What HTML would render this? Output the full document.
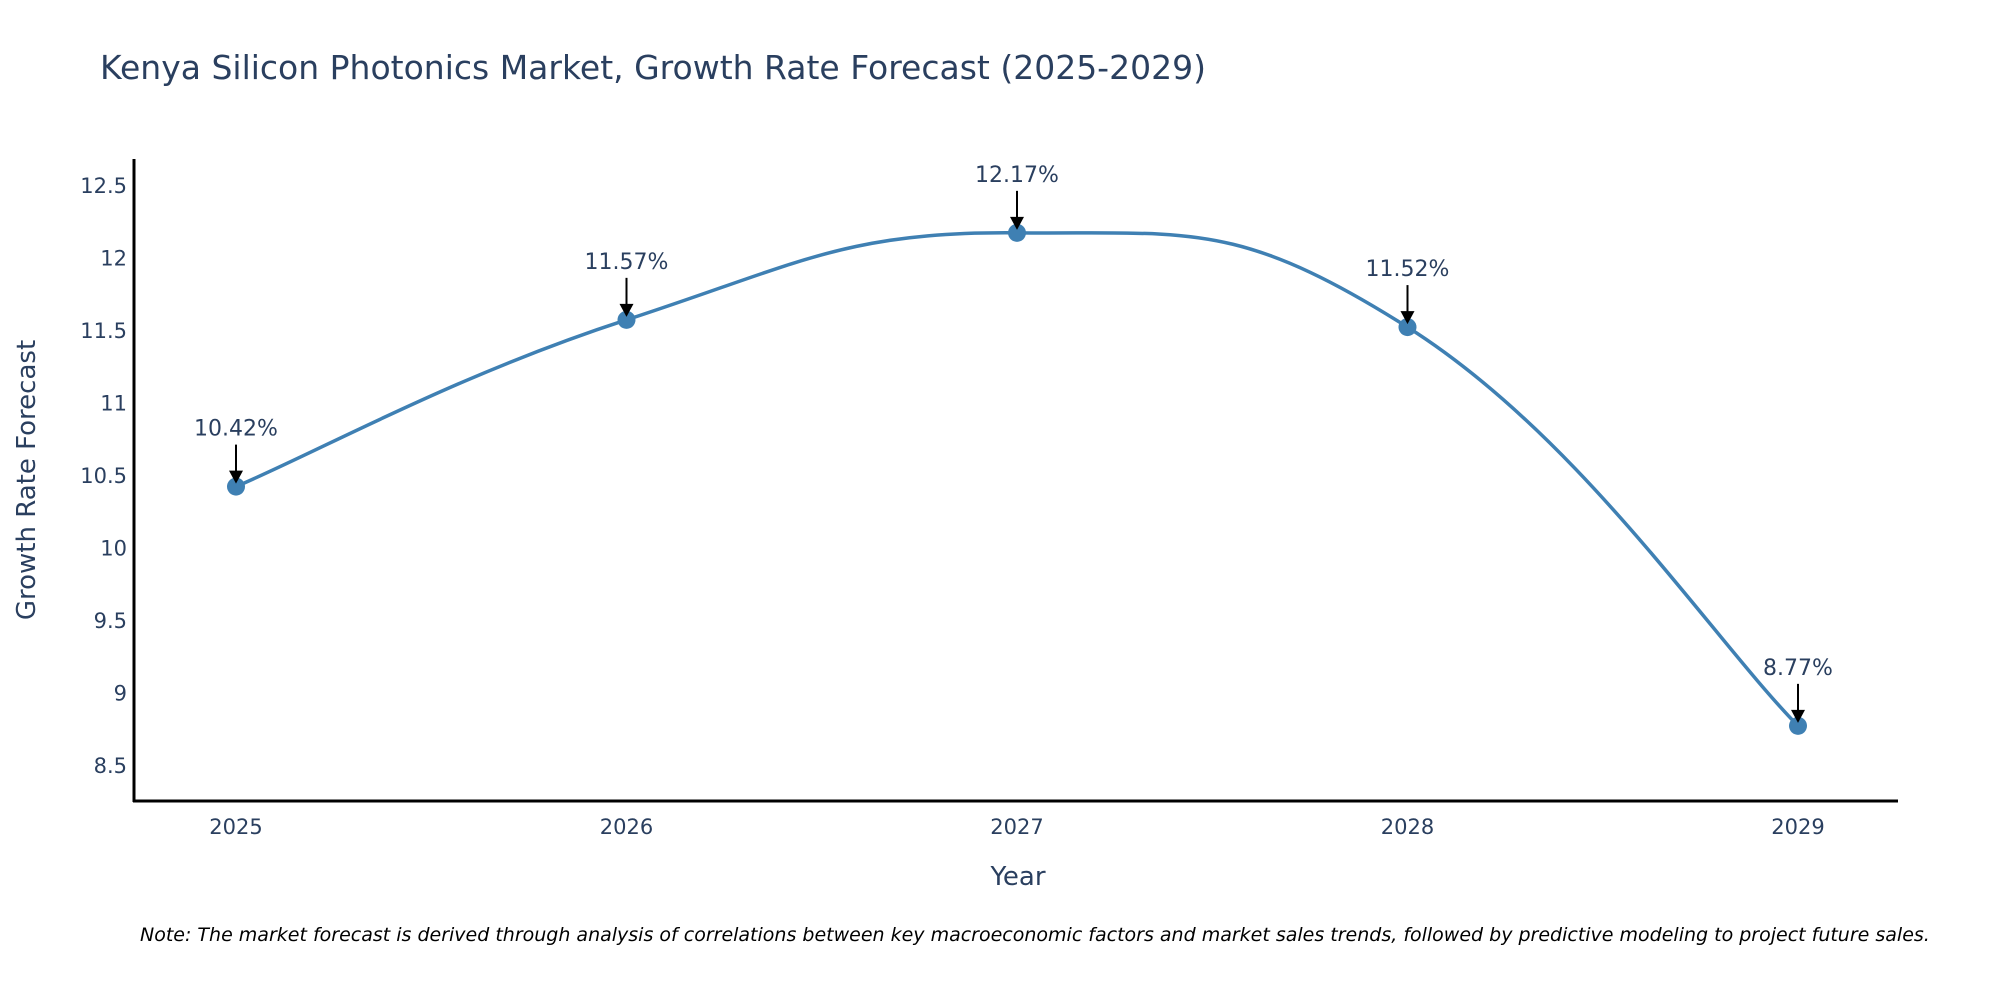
<!DOCTYPE html>
<html><head><meta charset="utf-8"><style>
body{margin:0;background:#fff}
svg{display:block;font-family:"DejaVu Sans","Liberation Sans",sans-serif}
</style></head><body>
<svg id="chart" width="2000" height="1000" viewBox="0 0 2000 1000">
<text x="100" y="79" font-size="33" fill="#2a3f5f">Kenya Silicon Photonics Market, Growth Rate Forecast (2025-2029)</text>
<g id="yticks"></g>
<g id="xticks"></g>
<line x1="134" y1="159" x2="134" y2="802" stroke="#000" stroke-width="3"/>
<line x1="133" y1="801" x2="1898" y2="801" stroke="#000" stroke-width="3"/>
<text x="1018" y="885" font-size="26" fill="#2a3f5f" text-anchor="middle">Year</text>
<text transform="translate(35,480) rotate(-90)" font-size="26" fill="#2a3f5f" text-anchor="middle">Growth Rate Forecast</text>
<g id="series"></g>
<g id="annos"></g>
<text x="140" y="941" font-size="19" font-style="italic" fill="#000">Note: The market forecast is derived through analysis of correlations between key macroeconomic factors and market sales trends, followed by predictive modeling to project future sales.</text>
</svg>
<script>
const years = ["2025","2026","2027","2028","2029"];
const rates = [10.42, 11.57, 12.17, 11.52, 8.77];
const yTicks = [8.5, 9, 9.5, 10, 10.5, 11, 11.5, 12, 12.5];
const yTickLabels = ["8.5","9","9.5","10","10.5","11","11.5","12","12.5"];

const NS = "http://www.w3.org/2000/svg";
function xs(i){ return 236 + i * 390.5; }
function ys(v){ return 765 - (v - 8.5) * 145; }
function mk(tag, attrs, parent){ const e = document.createElementNS(NS, tag); for (const k in attrs) e.setAttribute(k, attrs[k]); parent.appendChild(e); return e; }

const yt = document.getElementById('yticks');
yTicks.forEach((v, i) => {
  const t = mk('text', {x: 127, y: ys(v) + 8, 'font-size': 21, fill: '#2a3f5f', 'text-anchor': 'end'}, yt);
  
  
  t.textContent = yTickLabels[i];
});
const xt = document.getElementById('xticks');
years.forEach((y, i) => {
  const t = mk('text', {x: xs(i), y: 834, 'font-size': 21, fill: '#2a3f5f', 'text-anchor': 'middle'}, xt);
  
  
  t.textContent = y;
});

const pts = rates.map((v, i) => [xs(i), ys(v)]);
let d = `M${pts[0][0]},${pts[0][1]}`;
const s = 0.22;
for (let i = 0; i < pts.length - 1; i++) {
  const p0 = pts[Math.max(i - 1, 0)], p1 = pts[i], p2 = pts[i + 1], p3 = pts[Math.min(i + 2, pts.length - 1)];
  const c1 = [p1[0] + (p2[0] - p0[0]) * s, p1[1] + (p2[1] - p0[1]) * s];
  const c2 = [p2[0] - (p3[0] - p1[0]) * s, p2[1] - (p3[1] - p1[1]) * s];
  d += ` C${c1[0]},${c1[1]} ${c2[0]},${c2[1]} ${p2[0]},${p2[1]}`;
}
const ser = document.getElementById('series');
const line = mk('path', {d: d, fill: 'none', stroke: '#3f80b3', 'stroke-width': 3.5}, ser);


pts.forEach(p => {
  const c = mk('circle', {cx: p[0], cy: p[1], r: 9, fill: '#3f80b3'}, ser);
  
  
});

const an = document.getElementById('annos');
rates.forEach((v, i) => {
  const x = xs(i), y = ys(v);
  const t = mk('text', {x: x, y: y - 51, 'font-size': 22, fill: '#2a3f5f', 'text-anchor': 'middle'}, an);
  
  
  t.textContent = v.toFixed(2) + '%';
  const l = mk('line', {x1: x, y1: y - 42, x2: x, y2: y - 14, stroke: '#000', 'stroke-width': 2}, an);
  
  
  const h = mk('polygon', {points: `${x-7},${y-16} ${x+7},${y-16} ${x},${y-3}`, fill: '#000'}, an);
  
  
});
</script>
</body></html>
